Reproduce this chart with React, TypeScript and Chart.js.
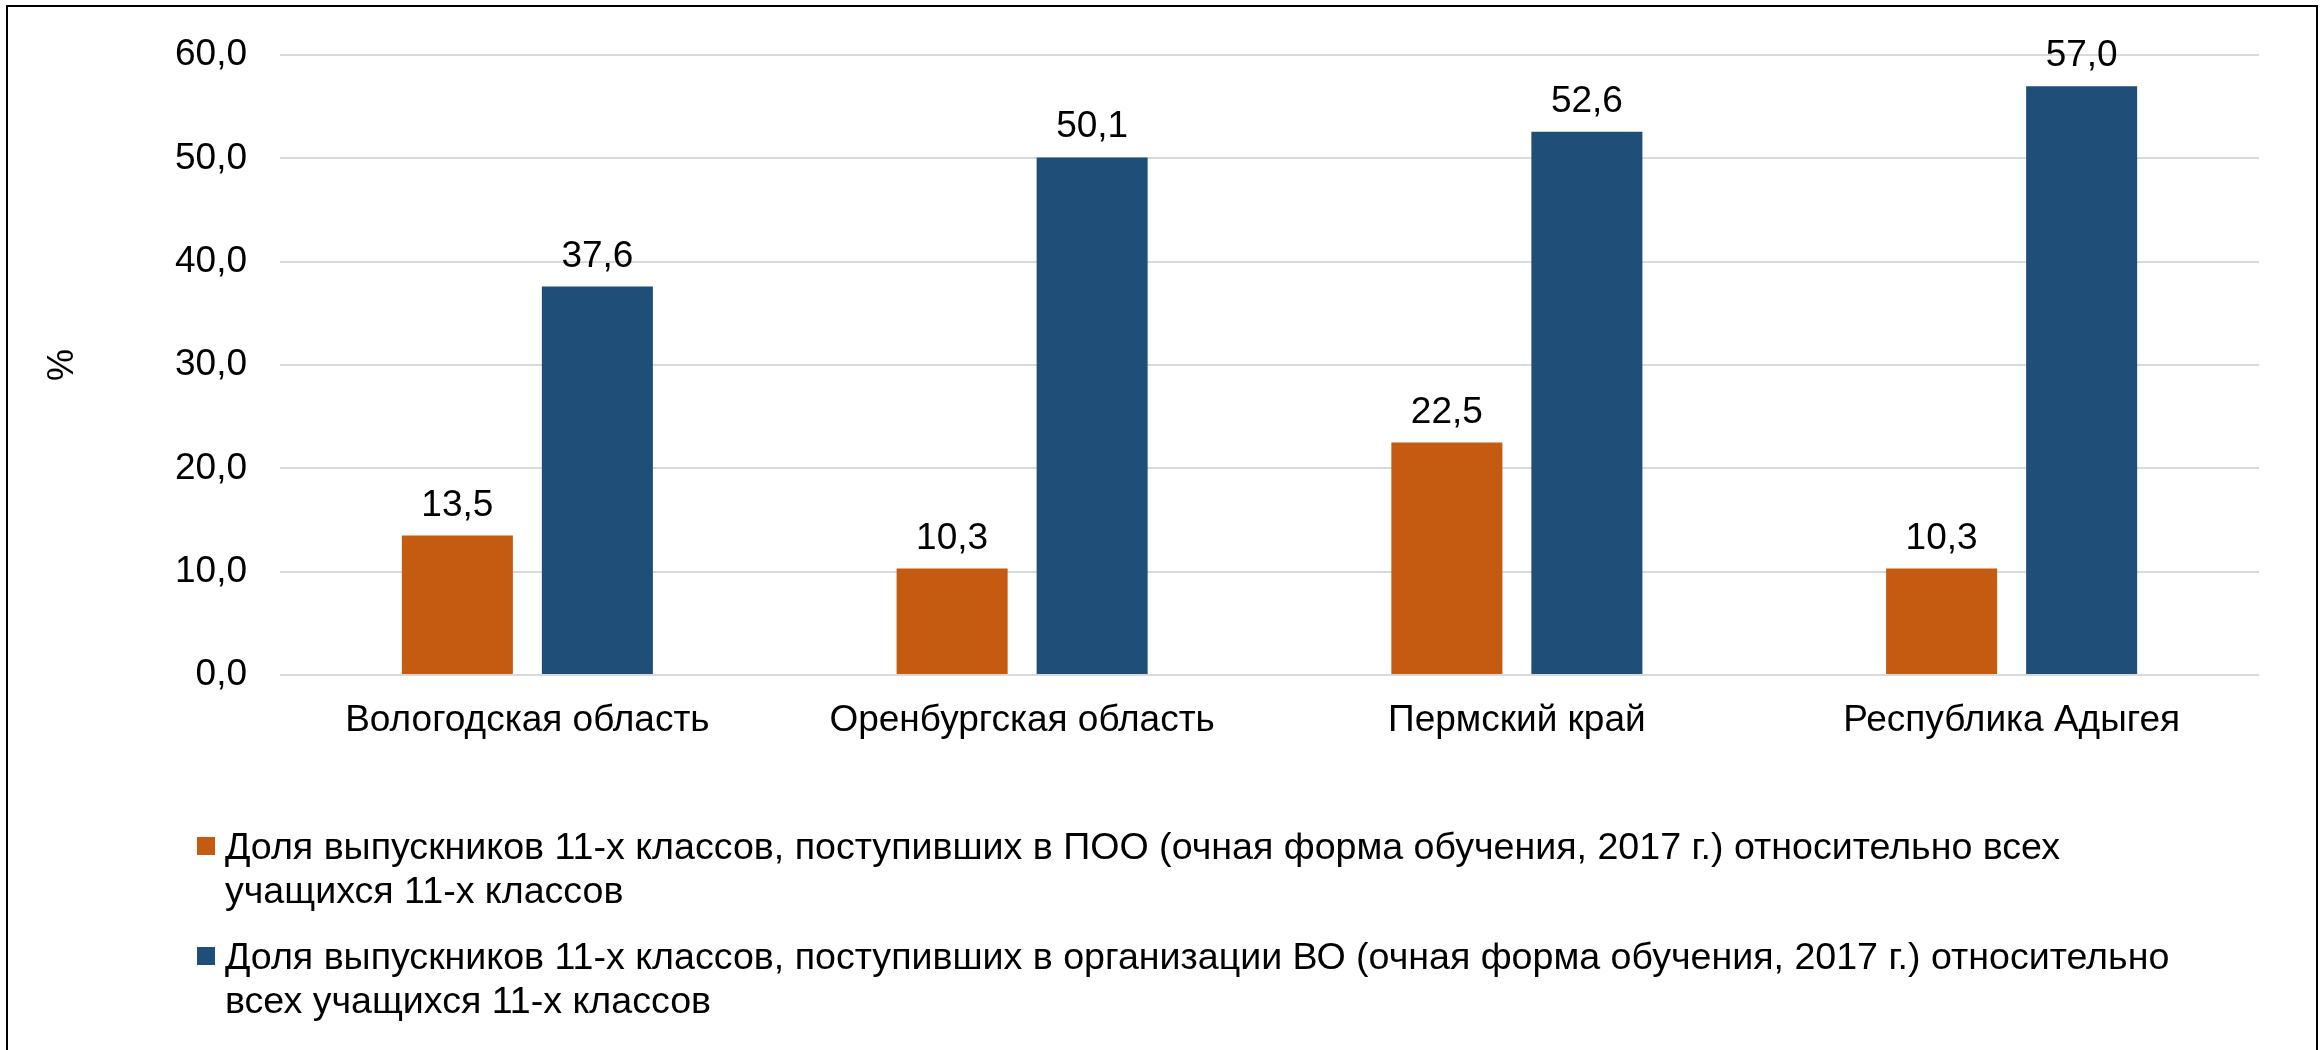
import React, { useEffect, useRef } from "react";
import { Chart, registerables } from "chart.js";

Chart.register(...registerables);

const categories = [
  "Вологодская область",
  "Оренбургская область",
  "Пермский край",
  "Республика Адыгея",
];
const seriesPOO = [13.5, 10.3, 22.5, 10.3];
const seriesVO = [37.6, 50.1, 52.6, 57.0];
const legendPOO = [
  "Доля выпускников 11-х классов, поступивших в ПОО (очная форма обучения, 2017 г.) относительно всех",
  "учащихся 11-х классов",
];
const legendVO = [
  "Доля выпускников 11-х классов, поступивших в организации ВО (очная форма обучения, 2017 г.) относительно",
  "всех учащихся 11-х классов",
];
const yTitle = "%";
const yMin = 0;
const yMax = 60;
const yStep = 10;

const COLOR_POO = "#C55A11";
const COLOR_VO = "#1F4E79";
const FONT = "'Liberation Sans', Arial, sans-serif";

const fmt = (v: number) => v.toFixed(1).replace(".", ",");

const legendLines: string[][] = [legendPOO, legendVO];

const dataLabelPlugin = {
  id: "dataLabels",
  afterDatasetsDraw(chart: any) {
    const ctx = chart.ctx;
    ctx.save();
    ctx.font = `37px ${FONT}`;
    ctx.fillStyle = "#000";
    ctx.textAlign = "center";
    ctx.textBaseline = "alphabetic";
    chart.data.datasets.forEach((ds: any, i: number) => {
      const meta = chart.getDatasetMeta(i);
      meta.data.forEach((bar: any, j: number) => {
        ctx.fillText(fmt(ds.data[j]), bar.x, bar.y - 20);
      });
    });
    ctx.restore();
  },
};

const customLegendPlugin = {
  id: "customLegend",
  afterDraw(chart: any) {
    const ctx = chart.ctx;
    ctx.save();
    ctx.font = `37.6px ${FONT}`;
    ctx.fillStyle = "#000";
    ctx.textAlign = "left";
    ctx.textBaseline = "alphabetic";
    const boxX = 197;
    const textX = 225;
    const lineH = 44;
    const itemGap = 66;
    let baseline = chart.chartArea.bottom + 184;
    chart.data.datasets.forEach((ds: any, i: number) => {
      ctx.fillStyle = ds.backgroundColor;
      ctx.fillRect(boxX, baseline - 22, 18, 18);
      ctx.fillStyle = "#000";
      const lines = legendLines[i];
      lines.forEach((ln, k) => {
        ctx.fillText(ln, textX, baseline + k * lineH);
      });
      baseline += (lines.length - 1) * lineH + itemGap;
    });
    ctx.restore();
  },
};

export default function App() {
  const canvasRef = useRef<HTMLCanvasElement | null>(null);

  useEffect(() => {
    if (!canvasRef.current) return;
    const chart = new Chart(canvasRef.current, {
      type: "bar",
      data: {
        labels: categories,
        datasets: [
          {
            label: legendPOO.join(" "),
            data: seriesPOO,
            backgroundColor: COLOR_POO,
            categoryPercentage: 0.566,
            barPercentage: 0.793,
          },
          {
            label: legendVO.join(" "),
            data: seriesVO,
            backgroundColor: COLOR_VO,
            categoryPercentage: 0.566,
            barPercentage: 0.793,
          },
        ],
      },
      options: {
        responsive: false,
        animation: false,
        layout: { padding: { left: 0, right: 64, top: 52, bottom: 0 } },
        plugins: {
          legend: { display: false },
          tooltip: { enabled: false },
          title: { display: false },
        },
        scales: {
          x: {
            grid: { display: false, drawTicks: false },
            border: { display: false },
            ticks: {
              color: "#000",
              font: { family: FONT, size: 37 },
              padding: 24,
              maxRotation: 0,
              autoSkip: false,
            },
            afterFit(scale: any) {
              scale.height = 375;
            },
          },
          y: {
            min: yMin,
            max: yMax,
            grid: { color: "#D9D9D9", lineWidth: 2, drawTicks: false },
            border: { display: false },
            ticks: {
              stepSize: yStep,
              color: "#000",
              font: { family: FONT, size: 37 },
              padding: 33,
              callback: (v: any) => fmt(Number(v)),
            },
            title: {
              display: true,
              text: yTitle,
              color: "#000",
              font: { family: FONT, size: 36 },
              padding: { top: 41, bottom: 0 },
            },
            afterFit(scale: any) {
              scale.width = 280;
            },
          },
        },
      },
      plugins: [dataLabelPlugin, customLegendPlugin],
    } as any);
    return () => chart.destroy();
  }, []);

  return (
    <div
      style={{
        position: "absolute",
        left: 0,
        top: 0,
        width: 2323,
        height: 1050,
        overflow: "hidden",
        background: "#fff",
      }}
    >
      <canvas
        ref={canvasRef}
        width={2323}
        height={1050}
        style={{ position: "absolute", left: 0, top: 0, width: 2323, height: 1050 }}
      />
      <div
        style={{
          position: "absolute",
          left: 6,
          top: 5,
          width: 2312,
          height: 1100,
          boxSizing: "border-box",
          border: "2px solid #000",
          pointerEvents: "none",
        }}
      />
    </div>
  );
}
